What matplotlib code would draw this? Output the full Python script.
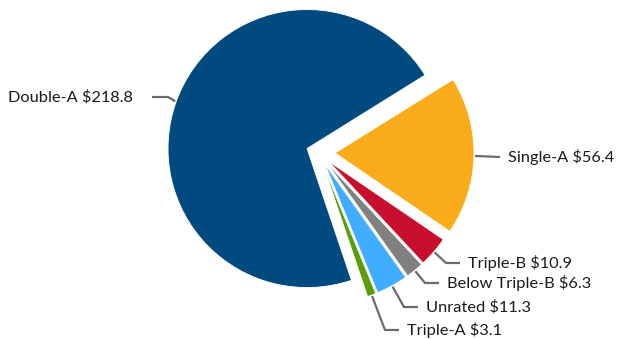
import numpy as np
import matplotlib
matplotlib.use("Agg")
import matplotlib.pyplot as plt

# ratings breakdown, clockwise from Single-A
ratings = ["Single-A", "Triple-B", "Below Triple-B", "Unrated", "Triple-A", "Double-A"]
amounts = [56.4, 10.9, 6.3, 11.3, 3.1, 218.8]
colors = ["#F9AB1A", "#C8102E", "#808080", "#41ADFF", "#5C9E0A", "#004A80"]
offsets = [16.4, 13, 13, 13, 13, 12.3]

# label text anchor (x, y) in pixel coords, y measured from the top
label_pos = {
    "Single-A": (508, 157),
    "Triple-B": (468, 263),
    "Below Triple-B": (447, 283),
    "Unrated": (426, 307),
    "Triple-A": (407, 330),
    "Double-A": (133, 97),
}

W, H = 617, 339
fig = plt.figure(figsize=(W / 100, H / 100), dpi=100)
ax = fig.add_axes([0, 0, 1, 1])

R = 139
wedges, _ = ax.pie(amounts, colors=colors, explode=offsets, radius=R,
                   center=(318.6, H - 152.7), startangle=31.9, counterclock=False,
                   wedgeprops=dict(edgecolor="white", linewidth=0.6))
# pie resets the limits, so put the pixel frame back afterwards
ax.set_xlim(0, W)
ax.set_ylim(0, H)
ax.set_aspect("equal")
ax.axis("off")

line_kw = dict(color="#6b6b6b", lw=1.6, solid_capstyle="butt")
text_kw = dict(va="center", fontsize=11.8, family="Lato", color="#1a1a1a")
for w, name, val in zip(wedges, ratings, amounts):
    mid = np.deg2rad((w.theta1 + w.theta2) / 2)
    cx, cy = w.center
    ax_, ay_ = cx + (R + 1) * np.cos(mid), cy + (R + 1) * np.sin(mid)
    tx, ty = label_pos[name]
    ty = H - ty
    txt = f"{name} ${val:.1f}"
    if name == "Double-A":
        end = tx + 19
        ax.plot([ax_, end + 16, end], [ay_, ty, ty], **line_kw)
        ax.text(tx, ty, txt, ha="right", **text_kw)
    elif name == "Single-A":
        ax.plot([ax_, tx - 8], [ay_, ty], **line_kw)
        ax.text(tx, ty, txt, ha="left", **text_kw)
    else:
        end = tx - 8
        ax.plot([ax_, end - 14, end], [ay_, ty, ty], **line_kw)
        ax.text(tx, ty, txt, ha="left", **text_kw)

fig.savefig("out.png", dpi=100)
